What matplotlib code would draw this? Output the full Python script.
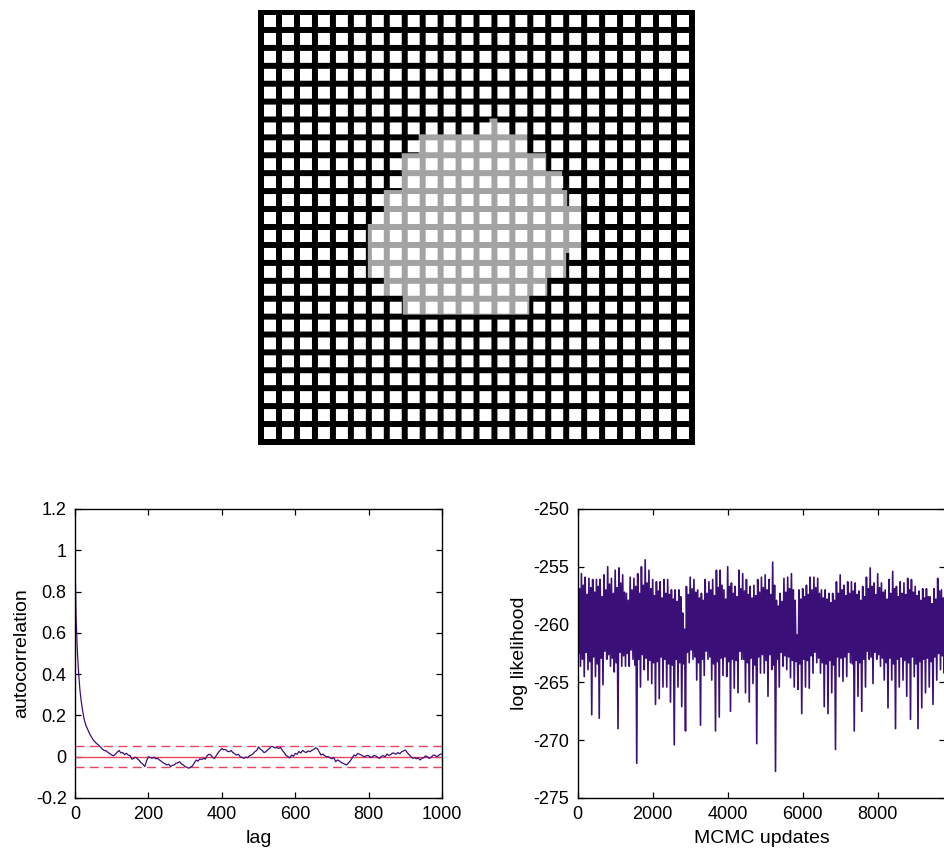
import numpy as np
import matplotlib
matplotlib.use("Agg")
import matplotlib.pyplot as plt

plt.rcParams['font.family'] = ['Liberation Sans', 'DejaVu Sans']
plt.rcParams['axes.unicode_minus'] = False

# --- lattice picture: 24 x 24 cells, grey blob given as row bands (image px) ---
n_cells = 24
blob_bands = [  # (row_from, row_to, col_from, col_to)
    (110, 126, 232, 240),
    (126, 145, 161, 270),
    (145, 163, 144, 289),
    (163, 182, 144, 305),
    (182, 198, 126, 310),
    (198, 216, 126, 324),
    (216, 245, 110, 324),
    (245, 270, 110, 309),
    (270, 288, 126, 290),
    (288, 307, 145, 272),
]

# --- autocorrelation vs lag ---
acf_lag = [0, 1, 2, 3, 5, 7, 10, 13, 16, 20, 25, 30, 35, 40, 45, 50, 55, 60, 65, 70,
           75, 80, 85, 90, 95] + list(range(100, 1001, 5))
acf_val = [1.0, 0.85, 0.75, 0.67, 0.57, 0.49, 0.40, 0.33, 0.28, 0.23, 0.18, 0.15, 0.13,
           0.11, 0.095, 0.08, 0.07, 0.062, 0.055, 0.045, 0.036, 0.03, 0.028, 0.02, 0.015,
           0.008, 0.004, 0.012, 0.022, 0.030, 0.018, 0.020, 0.010, 0.016, 0.008,
           0.005, -0.012, -0.008, -0.002, -0.010, -0.018, -0.030, -0.036, -0.048, -0.020,
           0.000, -0.004, -0.008, -0.002, -0.010, -0.008, -0.016, -0.022, -0.030, -0.034,
           -0.040, -0.036, -0.048, -0.042, -0.040, -0.032, -0.030, -0.024, -0.035, -0.040,
           -0.048, -0.052, -0.056, -0.050, -0.045, -0.030, -0.016, -0.022, -0.010, -0.014,
           -0.008, -0.012, 0.005, 0.012, 0.008, -0.004, -0.008, 0.006, 0.020, 0.030,
           0.040, 0.034, 0.035, 0.026, 0.024, 0.030, 0.020, 0.014, 0.008, 0.012,
           0.000, -0.004, -0.008, -0.002, -0.005, 0.004, 0.008, 0.014, 0.025, 0.030,
           0.048, 0.036, 0.030, 0.020, 0.024, 0.034, 0.040, 0.050, 0.048, 0.042,
           0.045, 0.040, 0.045, 0.030, 0.020, 0.006, 0.000, -0.006, 0.008, 0.002,
           0.016, 0.012, 0.025, 0.018, 0.030, 0.024, 0.020, 0.028, 0.024, 0.030,
           0.035, 0.042, 0.040, 0.024, 0.008, 0.012, 0.005, 0.000, 0.000, -0.006,
           -0.010, -0.004, -0.024, -0.016, -0.020, -0.028, -0.032, -0.036, -0.040, -0.030,
           -0.020, -0.006, 0.008, 0.004, 0.016, 0.012, 0.008, 0.002, 0.000, 0.006,
           0.005, -0.004, 0.000, 0.006, 0.003, -0.004, -0.008, 0.002, 0.005, 0.000,
           0.013, 0.006, 0.010, 0.018, 0.016, 0.012, 0.020, 0.014, 0.024, 0.028,
           0.032, 0.020, 0.010, 0.000, -0.008, -0.004, -0.010, -0.006, -0.016, -0.008,
           -0.005, 0.004, 0.000, -0.008, -0.003, 0.006, 0.008, 0.000, 0.005, 0.012,
           0.013]
conf_band = 0.05

# --- log likelihood trace: for every 100 updates the highest and lowest value
# --- and the second high / second low inside the dense band
ll_hi = [-256.0, -255.6, -255.9, -256.0, -256.1, -256.1, -256.1, -255.7, -255.0, -256.0,
         -255.3, -255.1, -255.7, -257.3, -255.9, -256.0, -255.6, -255.0, -254.4, -255.3,
         -256.1, -256.3, -256.3, -256.1, -256.1, -257.0, -257.0, -257.0, -259.0, -256.7,
         -255.9, -256.1, -257.0, -257.3, -256.1, -256.3, -256.1, -255.3, -255.3, -257.0,
         -255.0, -256.4, -256.7, -255.3, -255.6, -256.1, -256.7, -256.6, -256.1, -255.9,
         -255.7, -256.1, -254.6, -257.9, -257.3, -256.0, -255.9, -255.6, -257.9, -257.0,
         -256.9, -256.6, -255.9, -255.9, -256.0, -257.0, -257.0, -257.3, -257.3, -256.3,
         -255.7, -256.6, -256.3, -256.3, -256.4, -257.1, -256.7, -255.9, -255.1, -256.4,
         -255.6, -256.4, -257.0, -256.1, -255.4, -256.7, -256.3, -256.4, -256.0, -256.1,
         -256.7, -257.1, -256.9, -256.9, -257.6, -256.9, -256.0, -257.0, -257.1, -256.7]
ll_lo = [-263.6, -264.5, -263.9, -267.8, -264.5, -268.1, -265.2, -263.0, -263.6, -264.1,
         -269.0, -263.6, -263.6, -263.6, -263.0, -272.0, -265.4, -263.9, -264.8, -265.1,
         -266.9, -266.4, -265.4, -265.4, -266.7, -270.4, -265.4, -267.1, -269.2, -263.3,
         -263.0, -264.8, -268.7, -264.4, -263.0, -264.8, -269.2, -268.0, -264.4, -264.5,
         -267.5, -265.5, -265.9, -263.0, -265.9, -266.7, -265.1, -270.3, -264.2, -264.2,
         -266.2, -263.9, -272.7, -265.4, -263.6, -263.9, -264.6, -265.4, -265.6, -267.7,
         -265.4, -265.5, -264.2, -263.3, -264.2, -267.1, -267.7, -265.9, -270.8, -264.5,
         -264.9, -264.5, -263.3, -269.2, -266.2, -267.5, -265.4, -263.0, -265.1, -263.0,
         -263.6, -264.8, -267.2, -264.8, -269.0, -265.4, -264.8, -266.2, -268.2, -264.5,
         -269.0, -267.2, -265.9, -265.4, -266.9, -264.8, -263.9, -264.2, -264.8, -264.5]
ll_hi2 = [-256.9, -256.6, -257.4, -256.8, -257.2, -256.7, -257.6, -257.0, -256.5, -257.3,
          -256.8, -256.4, -257.2, -257.9, -257.0, -256.7, -257.3, -256.6, -256.4, -256.9,
          -257.5, -257.1, -257.7, -257.3, -257.4, -257.8, -258.0, -257.6, -260.4, -257.4,
          -256.9, -257.2, -257.7, -257.9, -257.3, -257.0, -257.5, -256.8, -256.6, -257.8,
          -256.7, -257.3, -257.6, -256.9, -257.1, -257.4, -257.7, -257.5, -257.2, -256.8,
          -257.0, -257.4, -256.6, -258.4, -258.0, -257.2, -256.9, -257.0, -260.9, -257.8,
          -257.6, -257.4, -257.0, -256.8, -257.3, -257.7, -257.8, -258.1, -257.9, -257.3,
          -257.0, -257.5, -257.3, -257.1, -257.4, -257.9, -257.6, -256.9, -256.7, -257.4,
          -256.8, -257.2, -257.8, -257.3, -256.9, -257.6, -257.3, -257.4, -257.0, -257.2,
          -257.5, -257.9, -257.7, -257.6, -258.2, -257.8, -257.1, -257.7, -257.9, -257.6]
ll_lo2 = [-262.5, -263.0, -262.4, -263.2, -262.8, -263.4, -262.9, -262.3, -262.6, -262.9,
          -263.3, -262.4, -262.7, -262.5, -262.2, -263.5, -263.0, -262.6, -262.9, -263.1,
          -263.3, -263.2, -262.8, -263.0, -263.4, -263.5, -263.0, -263.3, -263.4, -262.4,
          -262.2, -262.8, -263.3, -263.0, -262.3, -262.8, -263.4, -263.2, -262.9, -262.8,
          -263.2, -263.0, -263.1, -262.3, -263.0, -263.3, -262.9, -263.5, -262.8, -262.6,
          -263.1, -262.6, -263.5, -263.0, -262.4, -262.7, -262.8, -263.1, -263.2, -263.4,
          -263.0, -263.1, -262.7, -262.4, -262.9, -263.3, -263.4, -263.1, -263.5, -262.8,
          -262.9, -262.8, -262.4, -263.4, -263.1, -263.3, -263.0, -262.3, -262.8, -262.4,
          -262.6, -262.9, -263.3, -262.9, -263.4, -263.0, -262.8, -263.1, -263.3, -262.8,
          -263.4, -263.2, -263.0, -262.9, -263.2, -262.8, -262.5, -262.7, -262.9, -262.8]
ll_step = 100

purple = '#3b0f78'
red = '#e8465e'

fig = plt.figure(figsize=(9.45, 8.49), dpi=100)

# lattice image
cell = 18
line = 6
size = n_cells * cell + line
ii, jj = np.indices((size, size))
on_line = ((ii % cell) < line) | ((jj % cell) < line)
in_blob = np.zeros((size, size), dtype=bool)
for r0, r1, c0, c1 in blob_bands:
    in_blob[r0:r1, c0:c1] = True
img = np.ones((size, size))
img[on_line] = 0.0
img[on_line & in_blob] = 0.64

ax0 = fig.add_axes([0.2730, 0.4759, 0.4614, 0.5124])
ax0.imshow(img, cmap='gray', vmin=0, vmax=1, interpolation='antialiased', aspect='auto')
ax0.axis('off')


def style(ax):
    ax.tick_params(direction='in', top=True, right=True, length=4, width=0.9,
                   labelsize=13, pad=6)
    for s in ax.spines.values():
        s.set_linewidth(1.0)


# autocorrelation
ax1 = fig.add_axes([0.0794, 0.0601, 0.3884, 0.3404])
ax1.axhline(0, color=red, lw=1.0)
ax1.axhline(conf_band, color=red, lw=1.0, dashes=(6.5, 3.8))
ax1.axhline(-conf_band, color=red, lw=1.0, dashes=(6.5, 3.8))
ax1.plot(acf_lag, acf_val, color=purple, lw=0.9)
ax1.set_xlim(0, 1000)
ax1.set_ylim(-0.2, 1.2)
ax1.set_xticks([0, 200, 400, 600, 800, 1000])
yt = [-0.2, 0, 0.2, 0.4, 0.6, 0.8, 1, 1.2]
ax1.set_yticks(yt)
ax1.set_yticklabels(['-0.2', '0', '0.2', '0.4', '0.6', '0.8', '1', '1.2'])
ax1.set_xlabel('lag', fontsize=14, labelpad=5)
ax1.set_ylabel('autocorrelation', fontsize=14, labelpad=4)
style(ax1)

# log likelihood trace (hi, lo2, hi2, lo within each block of updates)
upd = np.arange(len(ll_hi)) * ll_step
q = ll_step / 4
tx = np.column_stack([upd, upd + q, upd + 2 * q, upd + 3 * q]).ravel()
ty = np.column_stack([ll_hi, ll_lo2, ll_hi2, ll_lo]).ravel()
ax2 = fig.add_axes([0.6113, 0.0601, 0.3889, 0.3404])
ax2.plot(tx, ty, color=purple, lw=1.2)
ax2.set_xlim(0, 9800)
ax2.set_ylim(-275, -250)
ax2.set_xticks([0, 2000, 4000, 6000, 8000])
ax2.set_yticks([-275, -270, -265, -260, -255, -250])
ax2.set_xlabel('MCMC updates', fontsize=14, labelpad=5)
ax2.set_ylabel('log likelihood', fontsize=14, labelpad=4)
style(ax2)

fig.savefig('out.png', dpi=100)
